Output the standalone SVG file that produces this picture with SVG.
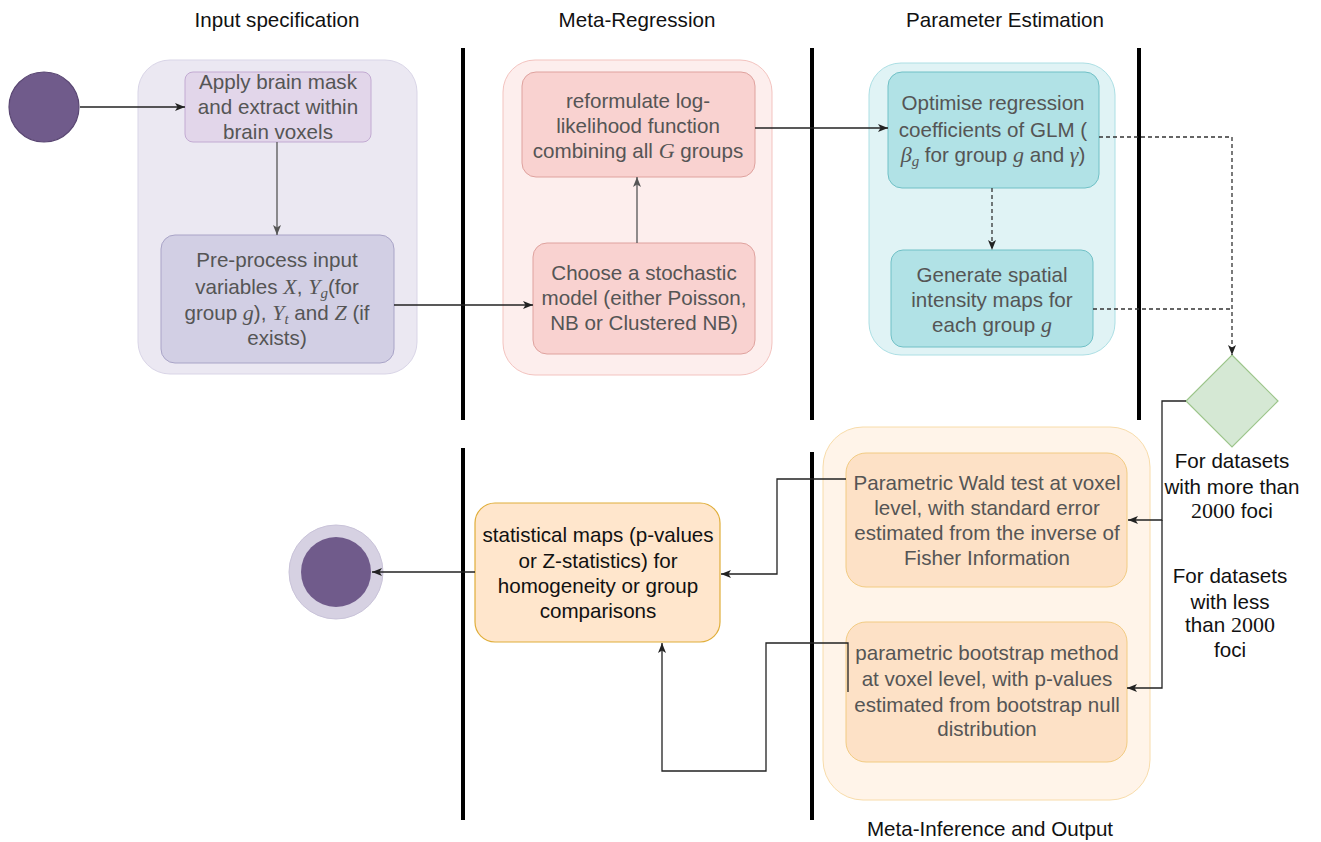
<svg xmlns="http://www.w3.org/2000/svg" width="1321" height="842" viewBox="0 0 1321 842">
<style>
text{font-family:"Liberation Sans",Arial,Helvetica,sans-serif;font-size:20.6px;text-anchor:middle;fill:#555}
.title{fill:#111;font-size:20.6px}
.dark{fill:#111}
.m{font-family:"Liberation Serif","Times New Roman",serif;font-style:italic;font-size:22px}
.n{font-family:"Liberation Serif","Times New Roman",serif;font-size:22px}
.sub{font-family:"Liberation Serif","Times New Roman",serif;font-style:italic;font-size:15px}
.lane{stroke:#000;stroke-width:4}
.c{fill:none;stroke:#222;stroke-width:1.3}
.cg{fill:none;stroke:#555;stroke-width:1.3}
.d{fill:none;stroke:#333;stroke-width:1.3;stroke-dasharray:4 3}
</style>
<defs>
<marker id="a" viewBox="0 0 10 10" refX="10" refY="5" markerWidth="10" markerHeight="10" markerUnits="userSpaceOnUse" orient="auto">
<path d="M0,1 L10,5 L0,9 L2.5,5 z" fill="#222"/>
</marker>
<marker id="ag" viewBox="0 0 10 10" refX="10" refY="5" markerWidth="10" markerHeight="10" markerUnits="userSpaceOnUse" orient="auto">
<path d="M0,1 L10,5 L0,9 L2.5,5 z" fill="#555"/>
</marker>
</defs>
<rect width="1321" height="842" fill="#fff"/>

<g id="titles">
<text class="title" x="277" y="27">Input specification</text>
<text class="title" x="637" y="27">Meta-Regression</text>
<text class="title" x="1005" y="27">Parameter Estimation</text>
<text class="title" x="990" y="836">Meta-Inference and Output</text>
</g>

<g id="lanes">
<line class="lane" x1="463" y1="48" x2="463" y2="420"/>
<line class="lane" x1="812" y1="48" x2="812" y2="420"/>
<line class="lane" x1="1139" y1="48" x2="1139" y2="420"/>
<line class="lane" x1="463" y1="448" x2="463" y2="820"/>
<line class="lane" x1="812" y1="452" x2="812" y2="820"/>
</g>

<g id="containers">
<rect x="138" y="60" width="279" height="314" rx="32" fill="#ebe8f2" stroke="#d9d5e7"/>
<rect x="503" y="60" width="269" height="315" rx="32" fill="#fdeeed" stroke="#f3c3bf"/>
<rect x="869" y="63" width="246" height="292" rx="32" fill="#e0f3f5" stroke="#acdfe4"/>
<rect x="823" y="427" width="327" height="373" rx="40" fill="#fff4e9" stroke="#f8dcaa"/>
</g>

<g id="start">
<circle cx="44" cy="107" r="35" fill="#705b8b" stroke="#5a4773" stroke-width="1.2"/>
</g>

<g id="apply">
<rect x="185" y="72" width="186" height="70" rx="8" fill="#e2d6ea" stroke="#c2aad2"/>
<text x="278" y="89">Apply brain mask</text>
<text x="278" y="114">and extract within</text>
<text x="278" y="139">brain voxels</text>
</g>

<g id="preprocess">
<rect x="161" y="235" width="233" height="128" rx="14" fill="#d2cfe4" stroke="#a9a4c7"/>
<text x="277" y="267">Pre-process input</text>
<text x="277" y="294">variables <tspan class="m">X</tspan>, <tspan class="m">Y</tspan><tspan class="sub" dy="4">g</tspan><tspan dy="-4">(for</tspan></text>
<text x="277" y="320">group <tspan class="m">g</tspan>), <tspan class="m">Y</tspan><tspan class="sub" dy="4">t</tspan><tspan dy="-4"> and </tspan><tspan class="m">Z</tspan> (if</text>
<text x="277" y="345">exists)</text>
</g>

<g id="reformulate">
<rect x="522" y="72" width="233" height="105" rx="14" fill="#f9d2d0" stroke="#dfa29e"/>
<text x="638" y="108">reformulate log-</text>
<text x="638" y="133">likelihood function</text>
<text x="638" y="158">combining all <tspan class="m">G</tspan> groups</text>
</g>

<g id="choose">
<rect x="533" y="243" width="222" height="111" rx="14" fill="#f9d2d0" stroke="#dfa29e"/>
<text x="644" y="280">Choose a stochastic</text>
<text x="644" y="305">model (either Poisson,</text>
<text x="644" y="330">NB or Clustered NB)</text>
</g>

<g id="optimise">
<rect x="888" y="72" width="211" height="116" rx="14" fill="#b1e2e6" stroke="#70c0c6"/>
<text x="993" y="110">Optimise regression</text>
<text x="993" y="137">coefficients of GLM (</text>
<text x="993" y="162"><tspan class="m">β</tspan><tspan class="sub" dy="4">g</tspan><tspan dy="-4"> for group </tspan><tspan class="m">g</tspan> and <tspan class="m">γ</tspan>)</text>
</g>

<g id="generate">
<rect x="891" y="250" width="202" height="97" rx="12" fill="#b1e2e6" stroke="#70c0c6"/>
<text x="992" y="282">Generate spatial</text>
<text x="992" y="307">intensity maps for</text>
<text x="992" y="332">each group <tspan class="m">g</tspan></text>
</g>

<g id="decision">
<polygon points="1232,355 1278,401 1232,447 1186,401" fill="#d5e8d4" stroke="#9cc58a" stroke-width="1.2"/>
<text class="dark" x="1232" y="468">For datasets</text>
<text class="dark" x="1232" y="494">with more than</text>
<text class="dark" x="1232" y="518"><tspan class="n">2000</tspan> foci</text>
<text class="dark" x="1230" y="583">For datasets</text>
<text class="dark" x="1230" y="609">with less</text>
<text class="dark" x="1230" y="632">than <tspan class="n">2000</tspan></text>
<text class="dark" x="1230" y="657">foci</text>
</g>

<g id="wald">
<rect x="846" y="453" width="281" height="134" rx="20" fill="#fde1c6" stroke="#f2cb82"/>
<text x="987" y="490">Parametric Wald test at voxel</text>
<text x="987" y="515">level, with standard error</text>
<text x="987" y="540">estimated from the inverse of</text>
<text x="987" y="565">Fisher Information</text>
</g>

<g id="bootstrap">
<rect x="846" y="622" width="281" height="140" rx="20" fill="#fde1c6" stroke="#f2cb82"/>
<text x="987" y="660">parametric bootstrap method</text>
<text x="987" y="686">at voxel level, with p-values</text>
<text x="987" y="712">estimated from bootstrap null</text>
<text x="987" y="736">distribution</text>
</g>

<g id="stats">
<rect x="475" y="503" width="245" height="139" rx="20" fill="#ffe6cc" stroke="#e0ae3a" stroke-width="1.2"/>
<text class="dark" x="598" y="542">statistical maps (p-values</text>
<text class="dark" x="598" y="568">or Z-statistics) for</text>
<text class="dark" x="598" y="593">homogeneity or group</text>
<text class="dark" x="598" y="618">comparisons</text>
</g>

<g id="end">
<circle cx="336" cy="572" r="47" fill="#d6d1e2" stroke="#c9c3d9"/>
<circle cx="336" cy="572" r="35" fill="#705b8b"/>
</g>

<g id="connectors">
<path class="c" d="M80,107 H185" marker-end="url(#a)"/>
<path class="cg" d="M277,142 V235" marker-end="url(#ag)"/>
<path class="c" d="M394,305 H533" marker-end="url(#a)"/>
<path class="cg" d="M637,243 V177" marker-end="url(#ag)"/>
<path class="c" d="M755,128 H888" marker-end="url(#a)"/>
<path class="d" d="M992,188 V250" marker-end="url(#a)"/>
<path class="d" d="M1099,137 H1232 V355" marker-end="url(#a)"/>
<path class="d" d="M1093,309 H1232"/>
<path class="c" d="M1186,401 H1162 V520 H1128" marker-end="url(#a)"/>
<path class="c" d="M1162,520 V688 H1127" marker-end="url(#a)"/>
<path class="c" d="M846,479 H777 V574 H721" marker-end="url(#a)"/>
<path class="c" d="M848,692 V643 H766 V771 H662 V643" marker-end="url(#a)"/>
<path class="c" d="M475,572 H372" marker-end="url(#a)"/>
</g>
</svg>
